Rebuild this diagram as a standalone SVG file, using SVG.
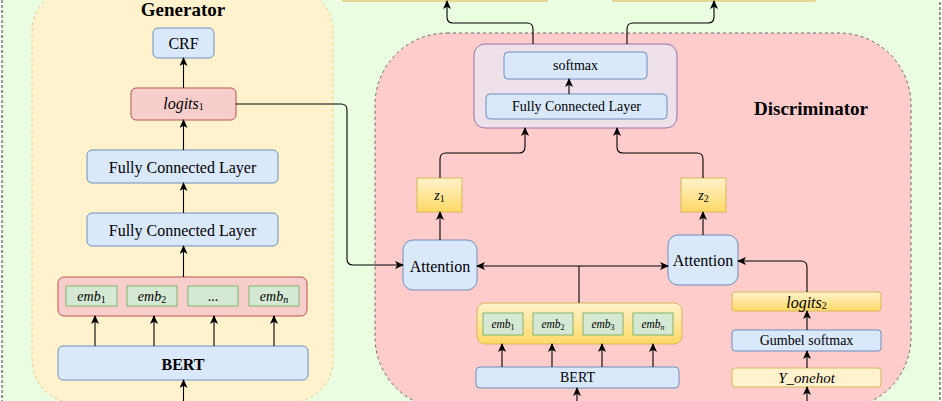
<svg xmlns="http://www.w3.org/2000/svg" width="942" height="401" viewBox="0 0 942 401">
<defs>
<linearGradient id="yg" x1="0" y1="0" x2="0" y2="1">
<stop offset="0" stop-color="#fff2cc"/>
<stop offset="1" stop-color="#ffd966"/>
</linearGradient>
<marker id="ah" markerUnits="userSpaceOnUse" markerWidth="9" markerHeight="8" refX="8" refY="4" orient="auto-start-reverse" viewBox="0 0 9 8">
<path d="M0,0 L9,4 L0,8 L2.2,4 z" fill="#000"/>
</marker>
<style>
text{font-family:"Liberation Serif","Times New Roman",serif;fill:#000;text-anchor:middle;dominant-baseline:central}
.blue{fill:#dae8fc;stroke:#6c8ebf;stroke-width:1}
.red{fill:#f8cecc;stroke:#b85450;stroke-width:1}
.green{fill:#d5e8d4;stroke:#82b366;stroke-width:1}
.yel{fill:url(#yg);stroke:#d6b656;stroke-width:1}
.lyel{fill:#fff2cc;stroke:#d6b656;stroke-width:1}
.purp{fill:#efe1ea;stroke:#9673a6;stroke-width:1}
.it{font-style:italic}
.sub{font-size:10px}
#connectors path{fill:none;stroke:#000;stroke-width:1.1;marker-end:url(#ah)}
#connectors path.plain{marker-end:none}
</style>
</defs>
<rect x="0" y="0" width="942" height="401" fill="#ffffff"/>
<rect id="outer" x="2" y="-10" width="938" height="421" fill="#ebfde0" stroke="#333" stroke-width="1" stroke-dasharray="3 2"/>

<g id="top-left-box"><rect x="343" y="-30" width="204" height="31" class="lyel"/></g>
<g id="top-right-box"><rect x="613" y="-30" width="202" height="31" class="lyel"/></g>

<g id="generator">
<rect x="32" y="-12" width="301" height="415" rx="43" fill="#fff2cc" stroke="#e0cc8a" stroke-width="1" stroke-dasharray="3 3"/>
<text x="183" y="9" font-size="19" font-weight="bold">Generator</text>
</g>

<g id="discriminator">
<rect x="375" y="33" width="536" height="376" rx="72" fill="#ffcccc" stroke="#666" stroke-width="1" stroke-dasharray="3 3"/>
<text x="811" y="108" font-size="19" font-weight="bold">Discriminator</text>
</g>

<g id="crf"><rect x="153" y="28" width="61" height="30" rx="5" class="blue"/><text x="183.5" y="43" font-size="16">CRF</text></g>
<g id="logits1"><rect x="131" y="88" width="105" height="32" rx="5" class="red"/><text x="183.5" y="103" font-size="16"><tspan class="it">logits</tspan><tspan class="sub" dy="3">1</tspan></text></g>
<g id="gen-fc1"><rect x="87" y="150" width="191" height="33" rx="5" class="blue"/><text x="182.5" y="167" font-size="16">Fully Connected Layer</text></g>
<g id="gen-fc2"><rect x="87" y="213" width="191" height="33" rx="5" class="blue"/><text x="182.5" y="230" font-size="16">Fully Connected Layer</text></g>
<g id="gen-emb">
<rect x="58" y="277" width="249" height="39" rx="6" class="red"/>
<rect x="66" y="286" width="51" height="20" class="green"/><text x="91.5" y="296" font-size="14"><tspan class="it">emb</tspan><tspan class="sub" dy="3">1</tspan></text>
<rect x="127" y="286" width="50" height="20" class="green"/><text x="152" y="296" font-size="14"><tspan class="it">emb</tspan><tspan class="sub" dy="3">2</tspan></text>
<rect x="188" y="286" width="50" height="20" class="green"/><text x="213" y="296" font-size="14">...</text>
<rect x="249" y="286" width="50" height="20" class="green"/><text x="274" y="296" font-size="14"><tspan class="it">emb</tspan><tspan class="sub it" dy="3">n</tspan></text>
</g>
<g id="gen-bert"><rect x="58" y="346" width="250" height="34" rx="5" class="blue"/><text x="183" y="364" font-size="16" font-weight="bold">BERT</text></g>

<g id="classifier">
<rect x="474" y="44" width="203" height="84" rx="11" class="purp"/>
<rect x="504" y="52" width="143" height="27" rx="4" class="blue"/><text x="575.5" y="65.5" font-size="14">softmax</text>
<rect x="486" y="94" width="181" height="25" rx="4" class="blue"/><text x="576.5" y="106.5" font-size="14">Fully Connected Layer</text>
</g>

<g id="z1"><rect x="417" y="178" width="45" height="34" class="yel"/><text x="439.5" y="195" font-size="14"><tspan class="it">z</tspan><tspan class="sub" dy="3">1</tspan></text></g>
<g id="z2"><rect x="681" y="178" width="45" height="34" class="yel"/><text x="703.5" y="195" font-size="14"><tspan class="it">z</tspan><tspan class="sub" dy="3">2</tspan></text></g>
<g id="attention1"><rect x="403" y="240" width="74" height="50" rx="10" class="blue"/><text x="440" y="266" font-size="16">Attention</text></g>
<g id="attention2"><rect x="668" y="235" width="70" height="50" rx="10" class="blue"/><text x="703" y="260" font-size="16">Attention</text></g>

<g id="disc-emb">
<rect x="477" y="303" width="205" height="41" rx="8" class="yel"/>
<rect x="483" y="313" width="40" height="22" class="green"/><text x="503" y="324" font-size="11.5"><tspan class="it">emb</tspan><tspan font-size="8" dy="2.5">1</tspan></text>
<rect x="533" y="313" width="40" height="22" class="green"/><text x="553" y="324" font-size="11.5"><tspan class="it">emb</tspan><tspan font-size="8" dy="2.5">2</tspan></text>
<rect x="583" y="313" width="40" height="22" class="green"/><text x="603" y="324" font-size="11.5"><tspan class="it">emb</tspan><tspan font-size="8" dy="2.5">3</tspan></text>
<rect x="633" y="313" width="40" height="22" class="green"/><text x="653" y="324" font-size="11.5"><tspan class="it">emb</tspan><tspan class="it" font-size="8" dy="2.5">n</tspan></text>
</g>
<g id="disc-bert"><rect x="476" y="367" width="203" height="21" rx="4" class="blue"/><text x="577.5" y="377.5" font-size="14">BERT</text></g>

<g id="logits2"><rect x="732" y="292" width="149" height="19" rx="3" class="yel"/><text x="806.5" y="301.5" font-size="16"><tspan class="it">logits</tspan><tspan class="sub" dy="3">2</tspan></text></g>
<g id="gumbel"><rect x="732" y="330" width="149" height="21" rx="3" class="blue"/><text x="806.5" y="340.5" font-size="14">Gumbel softmax</text></g>
<g id="yonehot"><rect x="732" y="368" width="149" height="19" rx="3" class="lyel"/><text x="806.5" y="377.5" font-size="15" class="it">Y_onehot</text></g>

<g id="connectors">
<path d="M183.5,88 V58"/>
<path d="M183.5,150 V120"/>
<path d="M183.5,213 V183"/>
<path d="M183.5,277 V246"/>
<path d="M95,346 V316"/>
<path d="M154,346 V316"/>
<path d="M214,346 V316"/>
<path d="M274,346 V316"/>
<path d="M183.5,410 V380"/>
<path d="M236,104 H341 Q347,104 347,110 V259 Q347,265 353,265 H403"/>
<path d="M440,240 V212"/>
<path d="M440,178 V159 Q440,153 446,153 H519 Q525,153 525,147 V128"/>
<path d="M703,178 V159 Q703,153 697,153 H623 Q617,153 617,147 V128"/>
<path d="M703,235 V212"/>
<path d="M477,266 H668" style="marker-start:url(#ah)"/>
<path class="plain" d="M579,303 V266"/>
<path d="M502,367 V344"/>
<path d="M552,367 V344"/>
<path d="M602,367 V344"/>
<path d="M653,367 V344"/>
<path d="M577,410 V388"/>
<path d="M807,410 V387"/>
<path d="M807,368 V351"/>
<path d="M807,330 V311"/>
<path d="M807,292 V267 Q807,261 801,261 H738"/>
<path d="M569,94 V79"/>
<path d="M533,44 V29 Q533,23 527,23 H453 Q447,23 447,17 V1"/>
<path d="M627,44 V29 Q627,23 633,23 H708 Q714,23 714,17 V1"/>
</g>
</svg>
